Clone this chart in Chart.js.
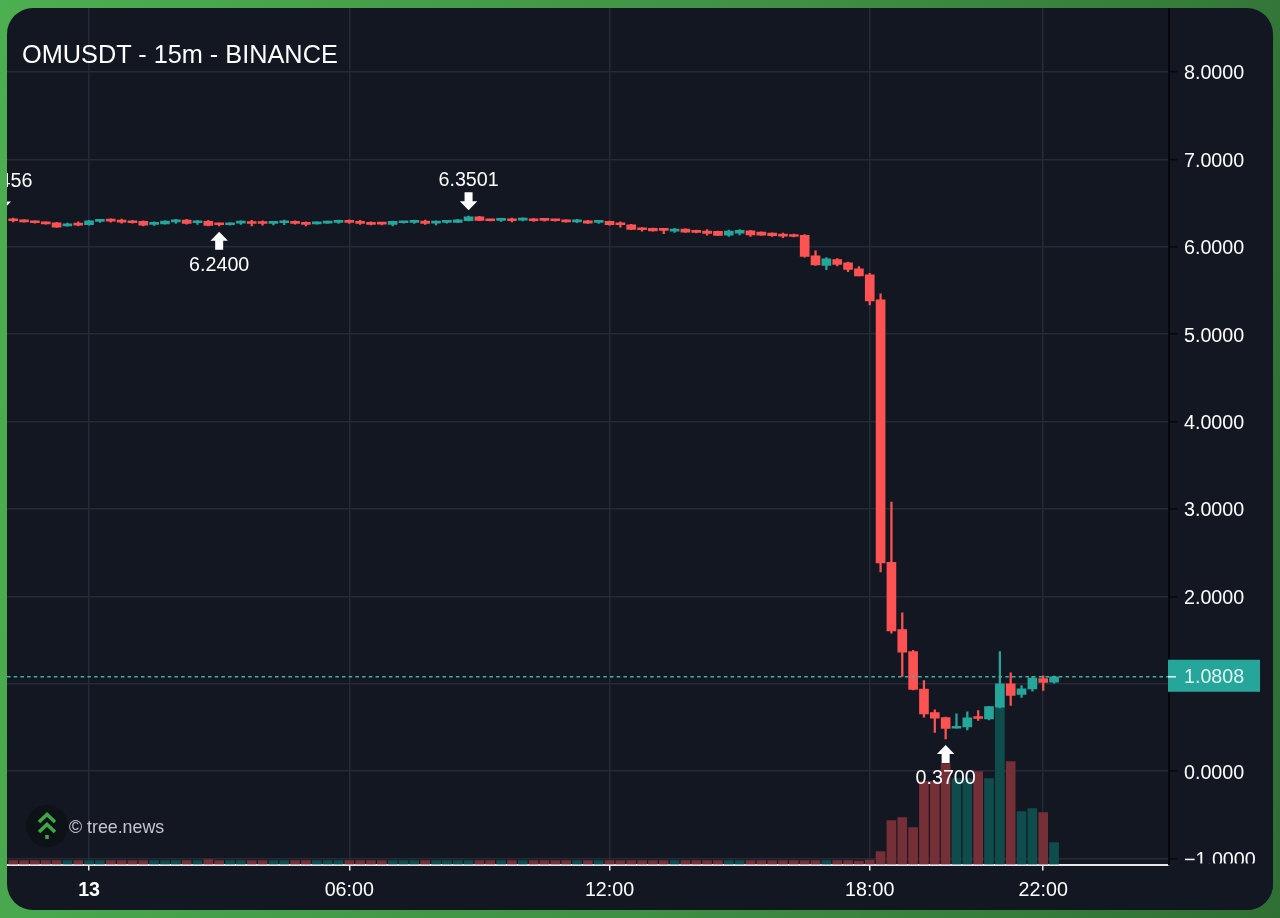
<!DOCTYPE html>
<html>
<head>
<meta charset="utf-8">
<title>OMUSDT - 15m - BINANCE</title>
<script src="https://cdn.jsdelivr.net/npm/chart.js@4/dist/chart.umd.min.js"></script>
<style>
  html, body { margin: 0; height: 918px; width: 1280px; overflow: hidden; }
  body { background: linear-gradient(100deg, #4caf50 0%, #3f8f44 55%, #2f6f34 100%); position: relative; font-family: "Liberation Sans", Arial, sans-serif; }
  #card { position: absolute; left: 7px; top: 8px; width: 1266px; height: 902px; border-radius: 26px; overflow: hidden; background: #131722; }
  #grafico { display: block; }
  #titulo { position: absolute; left: 15px; top: 31px; font-size: 25.3px; line-height: 30px; color: #fff; white-space: nowrap; }
  #logo { position: absolute; left: 18px; top: 796px; width: 44px; height: 44px; }
  #marca { position: absolute; left: 62px; top: 808px; font-size: 17.8px; line-height: 22px; color: #c4c6cb; white-space: nowrap; }
</style>
</head>
<body>
<div id="card">
  <canvas id="grafico" width="1266" height="902"></canvas>
  <div id="titulo">OMUSDT - 15m - BINANCE</div>
  <svg id="logo" viewBox="0 0 44 44">
    <circle cx="22" cy="22" r="21" fill="#0c1216"/>
    <g fill="none" stroke="#3fa748" stroke-width="3.6">
      <path d="M14 18 L22 10.5 L30 18"/>
      <path d="M14 28 L22 20.5 L30 28"/>
      <path d="M22 31 L22 35"/>
    </g>
  </svg>
  <div id="marca">© tree.news</div>
</div>
<script>
// barras de 15m, indice 0 = dia 13 00:00
const indice = [-7,-6,-5,-4,-3,-2,-1,0,1,2,3,4,5,6,7,8,9,10,11,12,13,14,15,16,17,18,19,20,21,22,23,24,25,26,27,28,29,30,31,32,33,34,35,36,37,38,39,40,41,42,43,44,45,46,47,48,49,50,51,52,53,54,55,56,57,58,59,60,61,62,63,64,65,66,67,68,69,70,71,72,73,74,75,76,77,78,79,80,81,82,83,84,85,86,87,88,89];
const abertura = [6.317,6.305,6.294,6.282,6.275,6.24,6.267,6.252,6.29,6.305,6.302,6.298,6.29,6.256,6.263,6.286,6.305,6.275,6.29,6.26,6.252,6.271,6.282,6.282,6.267,6.275,6.29,6.279,6.263,6.271,6.279,6.294,6.29,6.279,6.267,6.256,6.275,6.279,6.294,6.271,6.279,6.279,6.298,6.344,6.309,6.302,6.321,6.305,6.321,6.313,6.309,6.305,6.286,6.298,6.279,6.29,6.271,6.252,6.21,6.21,6.198,6.179,6.202,6.187,6.179,6.176,6.134,6.156,6.183,6.168,6.156,6.145,6.141,6.13,5.897,5.786,5.855,5.817,5.748,5.679,5.393,2.39,1.622,1.37,0.939,0.672,0.615,0.492,0.508,0.618,0.599,0.733,1.0,0.878,0.943,1.061,1.019];
const fechamento = [6.298,6.286,6.275,6.263,6.225,6.263,6.248,6.298,6.302,6.294,6.282,6.275,6.248,6.275,6.294,6.302,6.267,6.286,6.244,6.252,6.271,6.282,6.267,6.267,6.29,6.286,6.267,6.256,6.279,6.29,6.29,6.279,6.267,6.256,6.26,6.29,6.286,6.29,6.267,6.294,6.282,6.309,6.344,6.302,6.298,6.321,6.298,6.321,6.298,6.302,6.298,6.286,6.298,6.271,6.29,6.252,6.252,6.198,6.195,6.183,6.187,6.198,6.168,6.164,6.153,6.13,6.179,6.187,6.137,6.134,6.126,6.122,6.118,5.889,5.794,5.863,5.798,5.74,5.668,5.382,2.382,1.604,1.363,0.935,0.656,0.607,0.489,0.511,0.611,0.603,0.74,1.0,0.866,0.943,1.065,1.015,1.0808];
const maximas = [6.328,6.31,6.298,6.286,6.279,6.271,6.286,6.302,6.309,6.321,6.317,6.302,6.298,6.286,6.298,6.313,6.313,6.302,6.302,6.271,6.275,6.298,6.302,6.298,6.29,6.305,6.298,6.286,6.286,6.294,6.305,6.309,6.302,6.286,6.279,6.294,6.29,6.305,6.305,6.298,6.29,6.313,6.3501,6.348,6.313,6.325,6.329,6.331,6.325,6.324,6.313,6.309,6.313,6.302,6.302,6.294,6.286,6.256,6.221,6.214,6.198,6.21,6.206,6.191,6.198,6.18,6.19,6.198,6.187,6.172,6.16,6.156,6.145,6.14,5.954,5.878,5.866,5.825,5.775,5.695,5.462,3.08,1.813,1.382,1.038,0.702,0.62,0.656,0.679,0.695,0.744,1.37,1.126,0.981,1.084,1.092,1.088];
const minimas = [6.286,6.282,6.271,6.26,6.221,6.236,6.24,6.248,6.279,6.282,6.271,6.271,6.24,6.244,6.26,6.267,6.26,6.256,6.24,6.24,6.248,6.256,6.24,6.248,6.25,6.252,6.26,6.24,6.26,6.267,6.267,6.268,6.256,6.25,6.25,6.24,6.27,6.267,6.256,6.25,6.27,6.275,6.296,6.298,6.296,6.29,6.286,6.295,6.29,6.294,6.294,6.282,6.275,6.268,6.268,6.248,6.225,6.195,6.179,6.18,6.149,6.165,6.165,6.16,6.134,6.126,6.118,6.137,6.118,6.13,6.118,6.103,6.112,5.88,5.786,5.737,5.782,5.714,5.668,5.336,2.279,1.58,1.084,0.93,0.618,0.443,0.37,0.492,0.473,0.58,0.588,0.725,0.752,0.844,0.916,0.924,1.008];
const volume = [4,4,4,4,4,4,4,4,4,4,4,4,4,4,4,4,4,4,5,4,4,4,4,4,4,4,4,4,4,4,4,4,4,4,4,4,4,4,4,4,4,4,4,4,4,4,4,4,4,4,4,4,4,4,4,4,4,4,4,4,4,4,4,4,4,4,4,4,4,4,4,4,4,4,4,4,4,4,3.5,4.5,13,44,47,37,83,83,101,86,86,93,86,158,103,53,56,52,22];

const precoTicks = [-1,0,1,2,3,4,5,6,7,8];
const tempoTicks = [0,24,48,72,88];
const tempoRotulos = ["13","06:00","12:00","18:00","22:00"];
const precoAtual = 1.0808;

// setas com o preco: acima da maxima ou abaixo da minima
const marcaIndice = [-8,12,35,79];
const marcaPreco = [6.3456,6.24,6.3501,0.37];
const marcaLado = ["acima","abaixo","acima","abaixo"];

const VERDE = "#26a69a", VERMELHO = "#ff5252";
const alta = (i) => fechamento[i] >= abertura[i];
const corCandle = indice.map((_, i) => alta(i) ? VERDE : VERMELHO);
const corVolume = indice.map((_, i) => alta(i) ? "#0f4d4d" : "#752f37");
const FONTE = '"Liberation Sans", Arial, sans-serif';

function seta(ctx, x, ponta, dir) {
  // dir = 1 aponta para cima, -1 para baixo
  ctx.beginPath();
  ctx.moveTo(x, ponta);
  ctx.lineTo(x + 8.7, ponta + dir * 9);
  ctx.lineTo(x + 4, ponta + dir * 9);
  ctx.lineTo(x + 4, ponta + dir * 18);
  ctx.lineTo(x - 4, ponta + dir * 18);
  ctx.lineTo(x - 4, ponta + dir * 9);
  ctx.lineTo(x - 8.7, ponta + dir * 9);
  ctx.closePath();
  ctx.fill();
}

const sobreposicoes = {
  id: "sobreposicoes",
  beforeDatasetsDraw(chart) {
    // a escala de precos corta o ultimo rotulo na base do grafico
    const { ctx, chartArea: a, width, height } = chart;
    ctx.fillStyle = "#131722";
    ctx.fillRect(a.right + 1, a.bottom - 1, width - a.right, height - a.bottom + 1);
  },
  afterDatasetsDraw(chart) {
    const { ctx, chartArea: a, scales } = chart;
    const yAtual = scales.y.getPixelForValue(precoAtual);
    ctx.save();
    ctx.strokeStyle = "#3fb2a6";
    ctx.lineWidth = 1.5;
    ctx.setLineDash([3.5, 3.2]);
    ctx.beginPath(); ctx.moveTo(a.left, yAtual); ctx.lineTo(a.right, yAtual); ctx.stroke();
    ctx.setLineDash([]);
    ctx.fillStyle = VERDE;
    ctx.fillRect(a.right - 1, yAtual - 17, 92, 32);
    ctx.fillStyle = "#dff5f2";
    ctx.fillRect(a.right - 1, yAtual - 0.7, 8, 1.5);
    ctx.font = "19.7px " + FONTE;
    ctx.textBaseline = "middle";
    ctx.textAlign = "left";
    ctx.fillText(precoAtual.toFixed(4), a.right + 15, yAtual + 1);

    ctx.fillStyle = "#fff";
    ctx.textAlign = "center";
    marcaIndice.forEach((m, i) => {
      const x = scales.x.getPixelForValue(m);
      const y = scales.y.getPixelForValue(marcaPreco[i]);
      const acima = marcaLado[i] === "acima";
      const ponta = acima ? y - 6 : y + 6;
      seta(ctx, x, ponta, acima ? -1 : 1);
      ctx.fillText(marcaPreco[i].toFixed(4), x, acima ? ponta - 29.5 : ponta + 34);
    });
    ctx.restore();
  },
};

new Chart(document.getElementById("grafico"), {
  type: "bar",
  data: {
    datasets: [
      { label: "corpo", order: 1, grouped: false, xAxisID: "x", yAxisID: "y", barThickness: 9, minBarLength: 2,
        data: indice.map((x, i) => ({ x, y: [abertura[i], fechamento[i]] })), backgroundColor: corCandle },
      { label: "pavio", order: 2, grouped: false, xAxisID: "x", yAxisID: "y", barThickness: 1.6,
        data: indice.map((x, i) => ({ x, y: [minimas[i], maximas[i]] })), backgroundColor: corCandle },
      { label: "volume", order: 3, grouped: false, xAxisID: "x", yAxisID: "vol", barThickness: 9,
        data: indice.map((x, i) => ({ x, y: volume[i] })), backgroundColor: corVolume },
    ],
  },
  options: {
    responsive: false,
    animation: false,
    events: [],
    layout: { padding: 0, autoPadding: false },
    plugins: { legend: { display: false }, tooltip: { enabled: false } },
    scales: {
      x: {
        type: "linear", min: -7.57, max: 99.6, offset: false,
        afterBuildTicks: (s) => { s.ticks = tempoTicks.map((value) => ({ value })); },
        afterFit: (s) => { s.height = 45.5; },
        border: { color: "#e4e6eb", width: 2 },
        grid: { offset: false, color: "#262a36", lineWidth: 1.5, tickColor: "#e4e6eb", tickLength: 6, tickWidth: 1.5 },
        ticks: {
          autoSkip: false, maxRotation: 0, color: "#fff", padding: 8,
          font: (c) => ({ family: FONTE, size: 19.7, weight: c.tick && c.tick.value === 0 ? "bold" : "normal" }),
          callback: (v) => tempoRotulos[tempoTicks.indexOf(v)],
        },
      },
      y: {
        position: "right", min: -1.067, max: 8.732,
        afterBuildTicks: (s) => { s.ticks = precoTicks.map((value) => ({ value })); },
        afterFit: (s) => { s.width = 104; s.paddingTop = 0; s.paddingBottom = 0; },
        border: { color: "#05070d", width: 2 },
        grid: { color: "#262a36", lineWidth: 1.5, tickColor: "#05070d", tickLength: 8, tickWidth: 1.5 },
        ticks: {
          color: "#fff", padding: 7, labelOffset: 2, font: { family: FONTE, size: 19.7 },
          callback: (v) => (v < 0 ? "\u2212" : "") + Math.abs(v).toFixed(4),
        },
      },
      vol: { display: false, min: 0, max: 856.5 },
    },
  },
  plugins: [sobreposicoes],
});
</script>
</body>
</html>
